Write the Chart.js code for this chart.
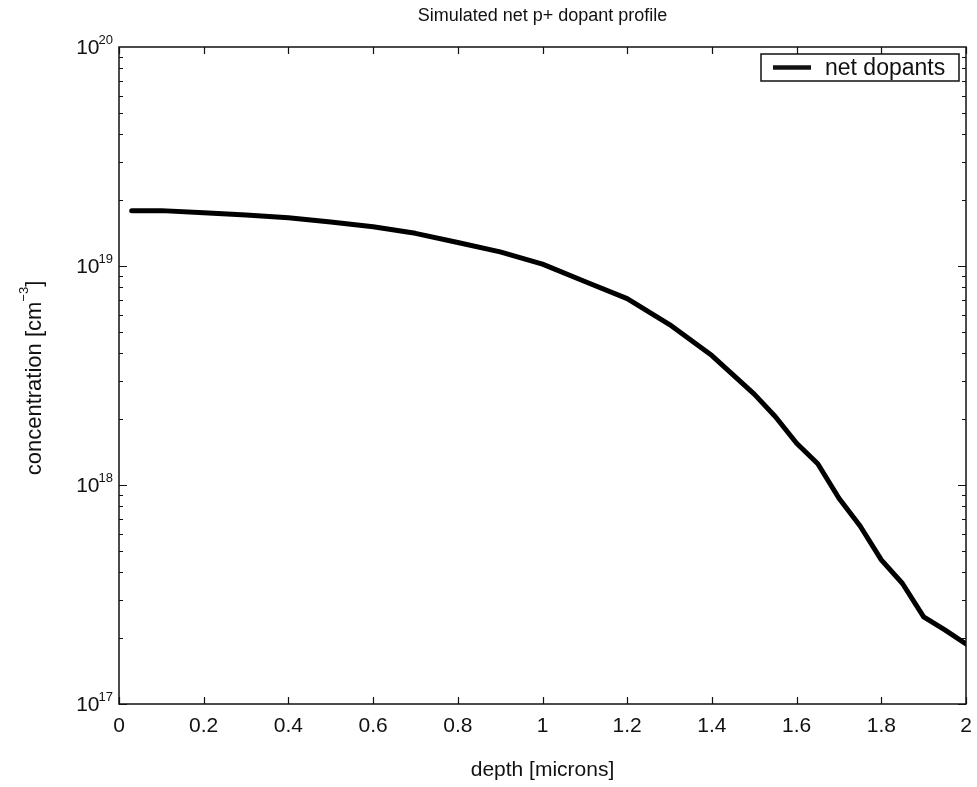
<!DOCTYPE html>
<html><head><meta charset="utf-8">
<style>html,body{margin:0;padding:0;background:#fff;overflow:hidden}#wrap{width:977px;height:787px}</style>
<script src="https://cdn.jsdelivr.net/npm/chart.js@4/dist/chart.umd.min.js"></script>
</head><body><div id="wrap"><canvas id="c" width="977" height="787"></canvas></div>
<script>
// ---- data ----
const depth = [0.03, 0.1, 0.2, 0.3, 0.4, 0.5, 0.6, 0.7, 0.8, 0.9, 1.0, 1.1, 1.2, 1.3, 1.4, 1.5, 1.55, 1.6, 1.65, 1.7, 1.75, 1.8, 1.85, 1.9, 1.95, 2.0];
const netDopants = [1.79e19, 1.79e19, 1.75e19, 1.71e19, 1.66e19, 1.59e19, 1.51e19, 1.41e19, 1.28e19, 1.16e19, 1.02e19, 8.5e18, 7.1e18, 5.4e18, 3.9e18, 2.6e18, 2.05e18, 1.55e18, 1.25e18, 8.7e17, 6.5e17, 4.55e17, 3.55e17, 2.5e17, 2.18e17, 1.88e17];
const xTicks = [0, 0.2, 0.4, 0.6, 0.8, 1.0, 1.2, 1.4, 1.6, 1.8, 2.0];
const xTickLabels = ['0', '0.2', '0.4', '0.6', '0.8', '1', '1.2', '1.4', '1.6', '1.8', '2'];
const yDecades = [17, 18, 19, 20];
const titleText = 'Simulated net p+ dopant profile';
const xTitle = 'depth [microns]';
const yTitle = 'concentration [cm';
const yTitleSup = '\u22123';
const yTitleEnd = ']';
const seriesName = 'net dopants';

const FONT = '"Liberation Sans", Arial, Helvetica, sans-serif';
const INK = '#111';

const decorPlugin = {
  id: 'decor',
  afterDraw(chart) {
    const ctx = chart.ctx;
    const a = chart.chartArea;
    const xs = chart.scales.x, ys = chart.scales.y;
    const cx = (a.left + a.right) / 2;
    ctx.save();
    // frame
    ctx.strokeStyle = INK; ctx.lineWidth = 1.5;
    ctx.strokeRect(a.left, a.top, a.right - a.left, a.bottom - a.top);
    ctx.lineWidth = 1.2;
    // x ticks (inside, bottom and top)
    xTicks.forEach(v => {
      const px = Math.round(xs.getPixelForValue(v)) + 0.5;
      ctx.beginPath();
      ctx.moveTo(px, a.bottom); ctx.lineTo(px, a.bottom - 7);
      ctx.moveTo(px, a.top); ctx.lineTo(px, a.top + 7);
      ctx.stroke();
    });
    // y ticks: major + minor (log)
    for (let d = 17; d < 20; d++) {
      for (let m = 1; m <= 9; m++) {
        const v = m * Math.pow(10, d);
        const py = Math.round(ys.getPixelForValue(v)) + 0.5;
        const len = m === 1 ? 8 : 4;
        ctx.beginPath();
        ctx.moveTo(a.left, py); ctx.lineTo(a.left + len, py);
        ctx.moveTo(a.right, py); ctx.lineTo(a.right - len, py);
        ctx.stroke();
      }
    }
    // x tick labels
    ctx.fillStyle = INK;
    ctx.font = '21px ' + FONT;
    ctx.textAlign = 'center'; ctx.textBaseline = 'middle';
    xTicks.forEach((v, i) => {
      ctx.fillText(xTickLabels[i], xs.getPixelForValue(v), a.bottom + 22);
    });
    // y tick labels 10^n
    yDecades.forEach(d => {
      const py = ys.getPixelForValue(Math.pow(10, d));
      ctx.font = '13px ' + FONT;
      ctx.textAlign = 'left'; ctx.textBaseline = 'alphabetic';
      const supW = ctx.measureText(String(d)).width;
      const supX = a.left - 6 - supW;
      ctx.fillText(String(d), supX, py - 3);
      ctx.font = '21px ' + FONT;
      ctx.textAlign = 'right'; ctx.textBaseline = 'middle';
      ctx.fillText('10', supX + 1, py + 1);
    });
    // title
    ctx.font = '18px ' + FONT;
    ctx.textAlign = 'center'; ctx.textBaseline = 'middle';
    ctx.fillText(titleText, cx, 16);
    // x title
    ctx.font = '21px ' + FONT;
    ctx.fillText(xTitle, cx, 770);
    // y title (rotated)
    ctx.save();
    ctx.translate(34, 378);
    ctx.rotate(-Math.PI / 2);
    ctx.font = '22px ' + FONT;
    const w1 = ctx.measureText(yTitle).width;
    ctx.font = '13px ' + FONT;
    const w2 = ctx.measureText(yTitleSup).width;
    ctx.font = '22px ' + FONT;
    const w3 = ctx.measureText(yTitleEnd).width;
    let sx = -(w1 + w2 + w3) / 2;
    ctx.textAlign = 'left'; ctx.textBaseline = 'alphabetic';
    ctx.fillText(yTitle, sx, 7);
    ctx.font = '13px ' + FONT;
    ctx.fillText(yTitleSup, sx + w1, -6);
    ctx.font = '22px ' + FONT;
    ctx.fillText(yTitleEnd, sx + w1 + w2, 7);
    ctx.restore();
    // legend
    const lx = 761, ly = 54, lw = 198, lh = 27;
    ctx.fillStyle = '#fff';
    ctx.fillRect(lx, ly, lw, lh);
    ctx.strokeStyle = INK; ctx.lineWidth = 1.5;
    ctx.strokeRect(lx, ly, lw, lh);
    ctx.lineWidth = 4.5; ctx.lineCap = 'butt';
    ctx.beginPath(); ctx.moveTo(773, ly + lh / 2); ctx.lineTo(811, ly + lh / 2); ctx.stroke();
    ctx.fillStyle = INK;
    ctx.font = '23px ' + FONT;
    ctx.textAlign = 'left'; ctx.textBaseline = 'middle';
    ctx.fillText(seriesName, 825, ly + lh / 2 + 1);
    ctx.restore();
  }
};

new Chart(document.getElementById('c'), {
  type: 'line',
  data: {
    datasets: [{
      label: seriesName,
      data: depth.map((x, i) => ({ x: x, y: netDopants[i] })),
      borderColor: '#000',
      borderWidth: 5,
      pointRadius: 0,
      tension: 0,
      borderJoinStyle: 'round',
      borderCapStyle: 'round',
      fill: false
    }]
  },
  options: {
    responsive: false,
    devicePixelRatio: 1,
    animation: false,
    layout: { padding: { left: 119, top: 47, right: 11, bottom: 83 } },
    plugins: { legend: { display: false }, title: { display: false }, tooltip: { enabled: false } },
    scales: {
      x: { type: 'linear', min: 0, max: 2, display: false },
      y: { type: 'logarithmic', min: 1e17, max: 1e20, display: false }
    }
  },
  plugins: [decorPlugin]
});
</script>
</body></html>
